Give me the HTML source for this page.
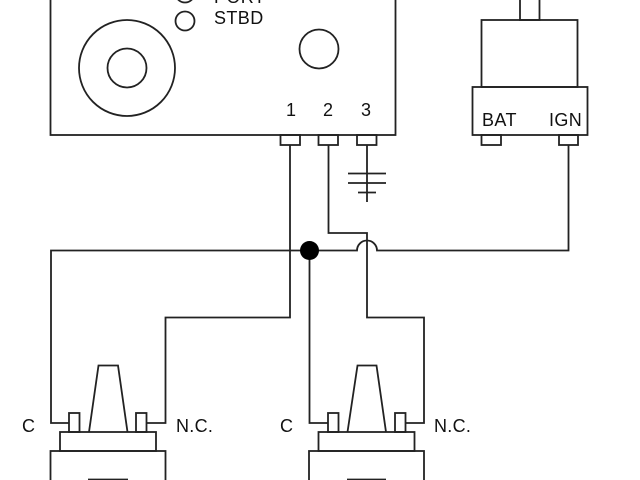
<!DOCTYPE html>
<html><head><meta charset="utf-8"><style>
html,body{margin:0;padding:0;background:#fff}
svg{display:block}
text{font-family:"Liberation Sans",sans-serif;font-size:18px;fill:#111}
.s{fill:none;stroke:#222;stroke-width:1.8}
</style></head><body>
<svg width="640" height="480" viewBox="0 0 640 480" xmlns="http://www.w3.org/2000/svg">
<g class="s">
<rect x="50.5" y="-10" width="345" height="145"/>
<circle cx="127" cy="68" r="48"/>
<circle cx="127" cy="68" r="19.5"/>
<circle cx="185" cy="-7" r="9.5"/>
<circle cx="185" cy="21" r="9.5"/>
<circle cx="319" cy="49" r="19.5"/>
<rect x="280.5" y="135" width="19.5" height="10"/>
<rect x="318.5" y="135" width="19.5" height="10"/>
<rect x="357" y="135" width="19.5" height="10"/>
<path d="M367 145V202M348 173.5H386M348 183H386M358 192.5H376"/>
<rect x="520" y="-5" width="19.5" height="25"/>
<rect x="481.5" y="20" width="96" height="67"/>
<rect x="472.5" y="87" width="115" height="48"/>
<rect x="481.5" y="135" width="19.5" height="10"/>
<rect x="559" y="135" width="19" height="10"/>
<path d="M568.5 145V250.5H377A10 10 0 0 0 357 250.5H51V423H69"/>
<path d="M290 145V317.5H165.5V423H146.5"/>
<path d="M328.5 145V233H367V317.5H424V423H405"/>
<path d="M309.5 250.5V423H328"/>
<rect x="69" y="413" width="10.5" height="19"/>
<rect x="136" y="413" width="10.5" height="19"/>
<path d="M89 432L98.5 365.5H118L127.5 432"/>
<rect x="60" y="432" width="96" height="19"/>
<rect x="50.5" y="451" width="115" height="40"/>
<path d="M88 479.5H128"/>
<rect x="328" y="413" width="10.5" height="19"/>
<rect x="395" y="413" width="10.5" height="19"/>
<path d="M347.5 432L357.5 365.5H376.5L386 432"/>
<rect x="318.5" y="432" width="96" height="19"/>
<rect x="309" y="451" width="115" height="40"/>
<path d="M347 479.5H386"/>
</g>
<circle cx="309.5" cy="250.5" r="9.5" fill="#000"/>
<text x="214" y="3" letter-spacing="0.4">PORT</text>
<text x="214" y="24" letter-spacing="0.4">STBD</text>
<text x="286" y="116">1</text>
<text x="323" y="116">2</text>
<text x="361" y="116">3</text>
<text x="482" y="126" letter-spacing="0.4">BAT</text>
<text x="549" y="126" letter-spacing="0.4">IGN</text>
<text x="22" y="432">C</text>
<text x="176" y="432" letter-spacing="0.3">N.C.</text>
<text x="280" y="432">C</text>
<text x="434" y="432" letter-spacing="0.3">N.C.</text>
</svg>
</body></html>
